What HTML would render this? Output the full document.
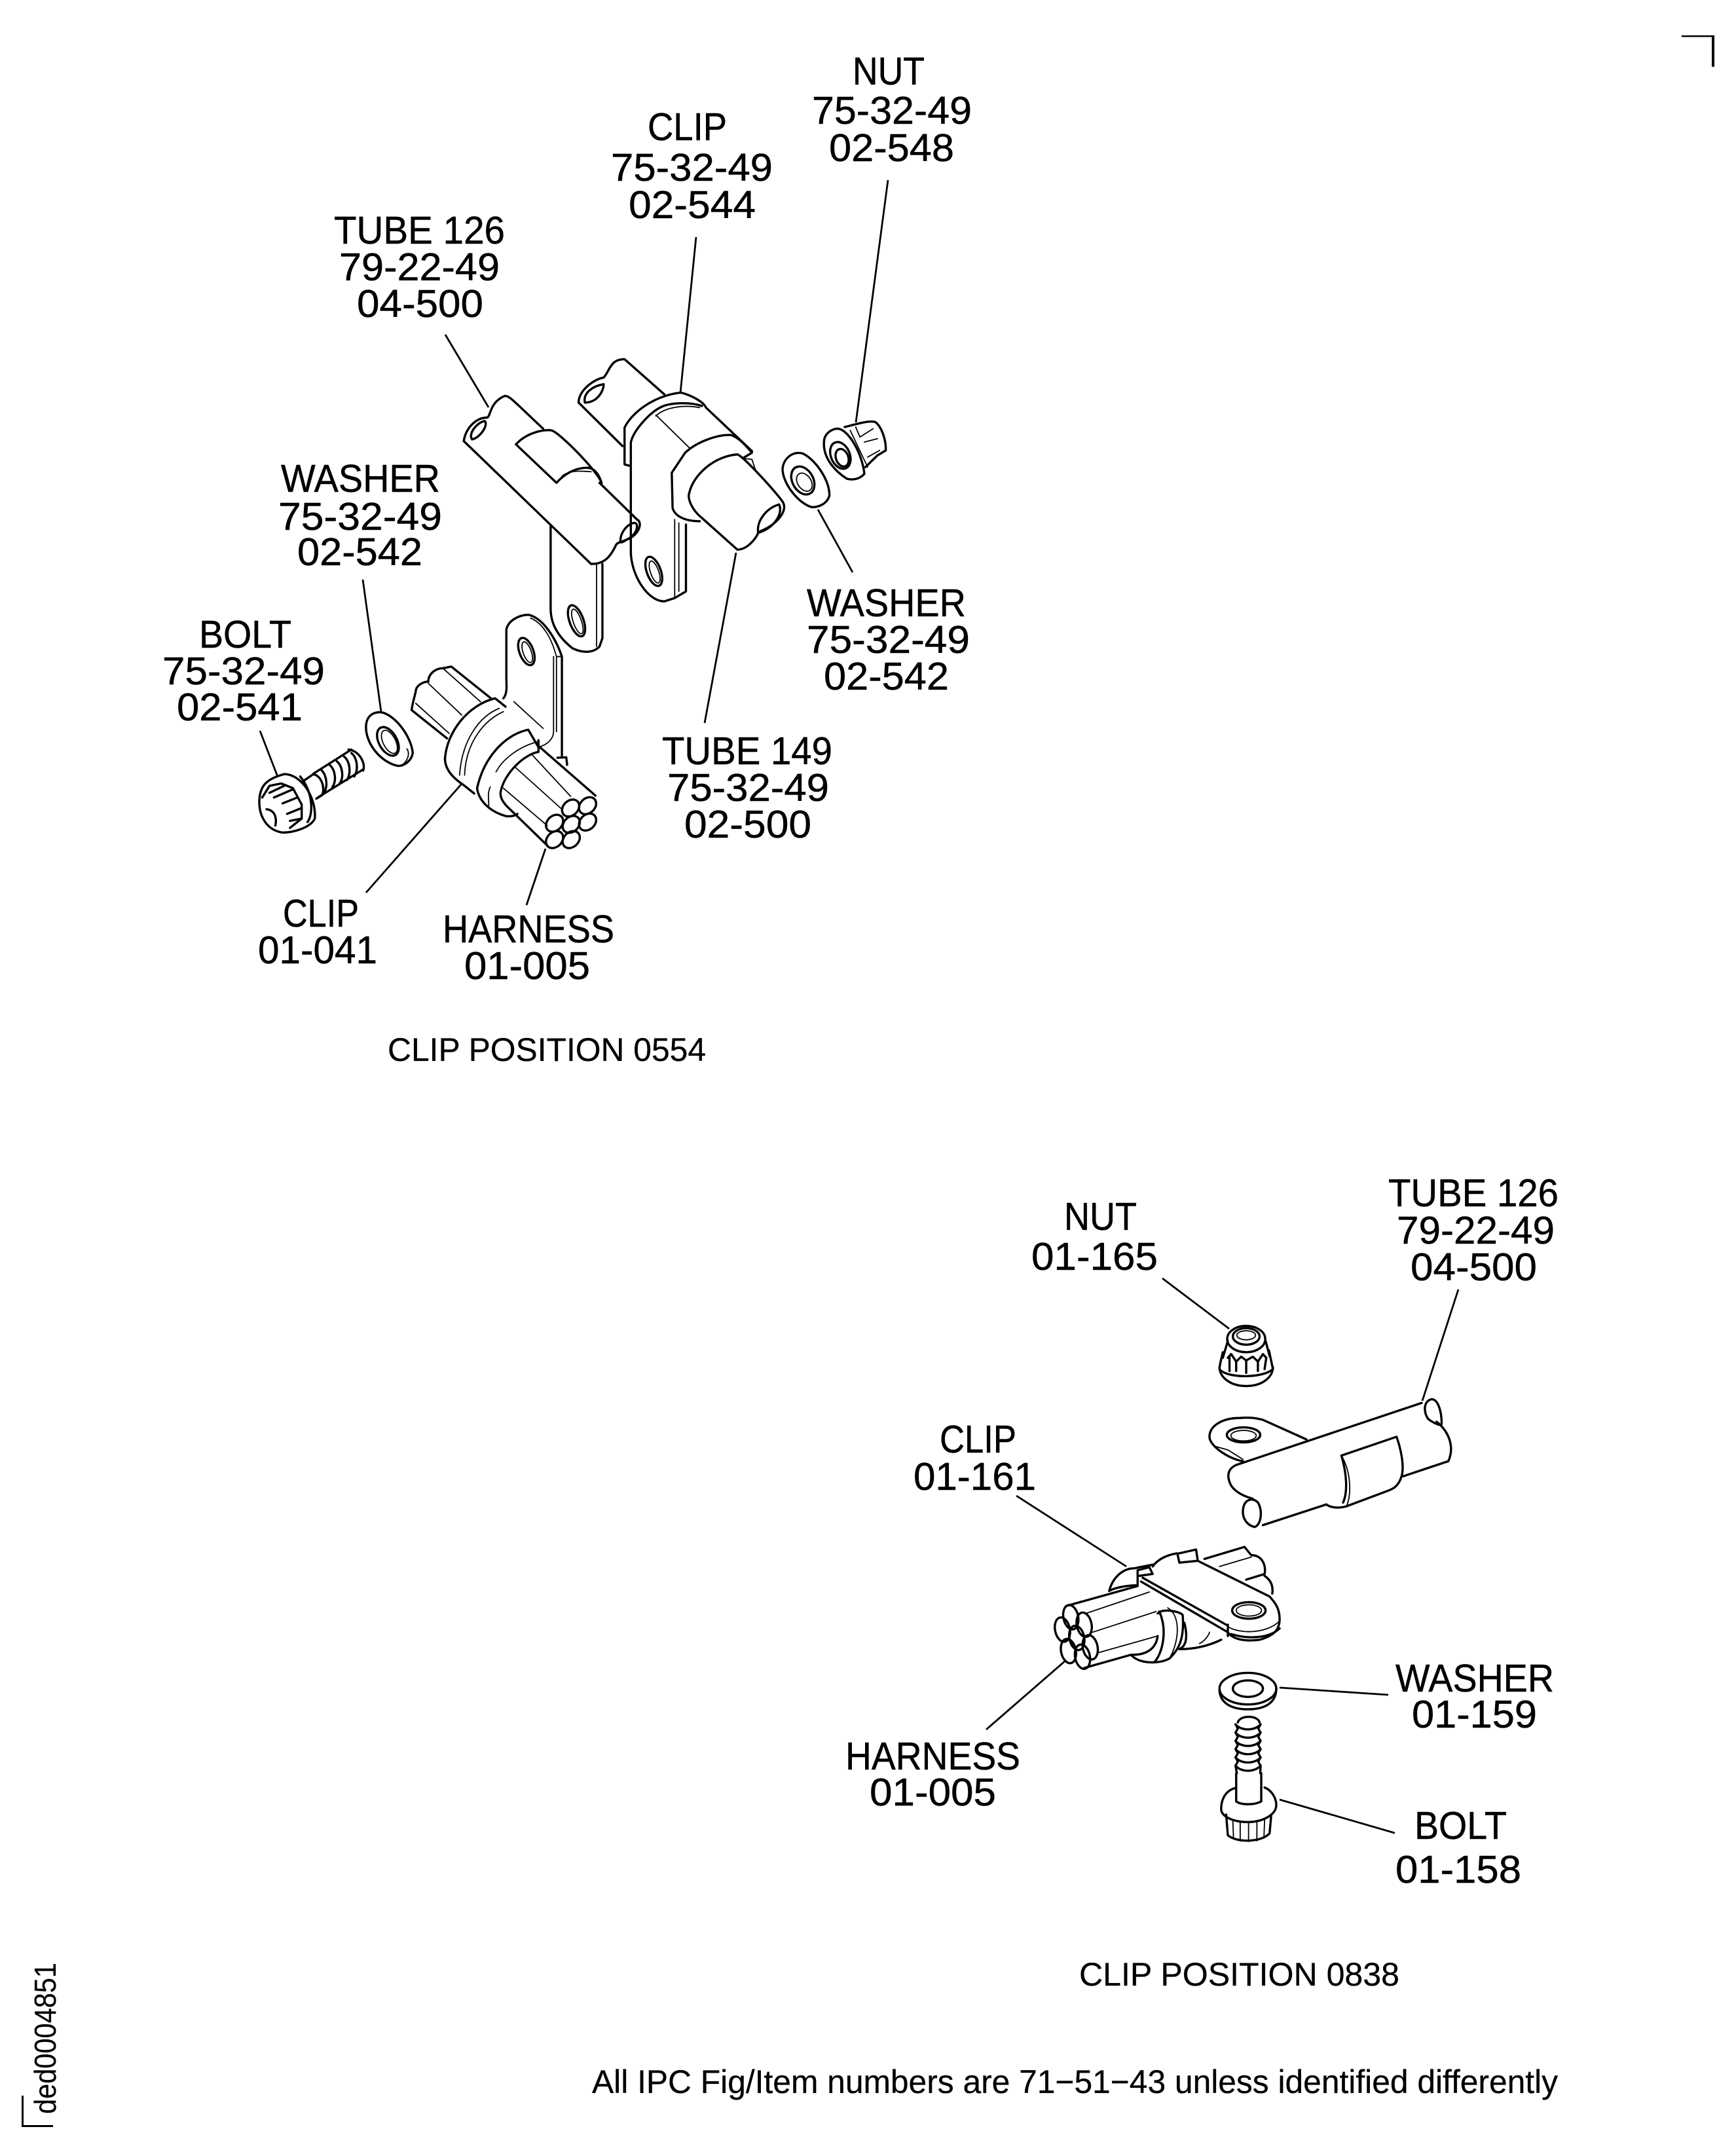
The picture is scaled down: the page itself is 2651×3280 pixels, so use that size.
<!DOCTYPE html>
<html><head><meta charset="utf-8"><style>
html,body{margin:0;padding:0;background:#fff}
svg{display:block}
path,line,ellipse{vector-effect:non-scaling-stroke;fill:none;stroke:#000;stroke-width:3.4;stroke-linecap:round;stroke-linejoin:round}
.t{stroke-width:1.8}
.l line{stroke-width:2.8;stroke-linecap:butt}
text{font-family:"Liberation Sans",sans-serif;font-size:59px;fill:#000;stroke:#000;stroke-width:.5}
.s{font-size:50px;stroke-width:.3}
</style></head><body>
<svg xmlns="http://www.w3.org/2000/svg" width="2651" height="3280" viewBox="0 0 2651 3280">
<rect width="2651" height="3280" fill="#fff"/>

<!-- page marks -->
<rect x="2568" y="54" width="50" height="2.5"/><rect x="2614" y="54" width="4" height="48"/>
<rect x="33" y="3200" width="3" height="48"/><rect x="33" y="3245" width="48" height="3"/>
<text transform="translate(85,3228) rotate(-90)" style="font-size:46px;stroke-width:.2" textLength="231" lengthAdjust="spacingAndGlyphs">ded0004851</text>

<!-- labels top figure -->
<g>
<text x="1302" y="129" textLength="110" lengthAdjust="spacingAndGlyphs">NUT</text>
<text x="1240" y="189" textLength="244" lengthAdjust="spacingAndGlyphs">75-32-49</text>
<text x="1266" y="246" textLength="191" lengthAdjust="spacingAndGlyphs">02-548</text>
<text x="989" y="214" textLength="121" lengthAdjust="spacingAndGlyphs">CLIP</text>
<text x="933" y="276" textLength="247" lengthAdjust="spacingAndGlyphs">75-32-49</text>
<text x="960" y="333" textLength="194" lengthAdjust="spacingAndGlyphs">02-544</text>
<text x="510" y="372" textLength="261" lengthAdjust="spacingAndGlyphs">TUBE 126</text>
<text x="518" y="428" textLength="245" lengthAdjust="spacingAndGlyphs">79-22-49</text>
<text x="545" y="484" textLength="193" lengthAdjust="spacingAndGlyphs">04-500</text>
<text x="429" y="751" textLength="243" lengthAdjust="spacingAndGlyphs">WASHER</text>
<text x="425" y="809" textLength="250" lengthAdjust="spacingAndGlyphs">75-32-49</text>
<text x="454" y="863" textLength="191" lengthAdjust="spacingAndGlyphs">02-542</text>
<text x="304" y="989" textLength="141" lengthAdjust="spacingAndGlyphs">BOLT</text>
<text x="248" y="1045" textLength="248" lengthAdjust="spacingAndGlyphs">75-32-49</text>
<text x="270" y="1100" textLength="192" lengthAdjust="spacingAndGlyphs">02-541</text>
<text x="1232" y="941" textLength="243" lengthAdjust="spacingAndGlyphs">WASHER</text>
<text x="1232" y="997" textLength="249" lengthAdjust="spacingAndGlyphs">75-32-49</text>
<text x="1258" y="1053" textLength="191" lengthAdjust="spacingAndGlyphs">02-542</text>
<text x="1011" y="1167" textLength="260" lengthAdjust="spacingAndGlyphs">TUBE 149</text>
<text x="1019" y="1223" textLength="247" lengthAdjust="spacingAndGlyphs">75-32-49</text>
<text x="1045" y="1279" textLength="194" lengthAdjust="spacingAndGlyphs">02-500</text>
<text x="432" y="1415" textLength="116" lengthAdjust="spacingAndGlyphs">CLIP</text>
<text x="394" y="1471" textLength="182" lengthAdjust="spacingAndGlyphs">01-041</text>
<text x="676" y="1439" textLength="262" lengthAdjust="spacingAndGlyphs">HARNESS</text>
<text x="709" y="1495" textLength="192" lengthAdjust="spacingAndGlyphs">01-005</text>
<text class="s" x="592" y="1620" textLength="486" lengthAdjust="spacingAndGlyphs">CLIP POSITION 0554</text>

<!-- labels bottom figure -->
<text x="2120" y="1842" textLength="260" lengthAdjust="spacingAndGlyphs">TUBE 126</text>
<text x="2133" y="1899" textLength="241" lengthAdjust="spacingAndGlyphs">79-22-49</text>
<text x="2154" y="1955" textLength="193" lengthAdjust="spacingAndGlyphs">04-500</text>
<text x="1625" y="1878" textLength="111" lengthAdjust="spacingAndGlyphs">NUT</text>
<text x="1575" y="1939" textLength="193" lengthAdjust="spacingAndGlyphs">01-165</text>
<text x="1435" y="2218" textLength="117" lengthAdjust="spacingAndGlyphs">CLIP</text>
<text x="1395" y="2275" textLength="187" lengthAdjust="spacingAndGlyphs">01-161</text>
<text x="1291" y="2702" textLength="267" lengthAdjust="spacingAndGlyphs">HARNESS</text>
<text x="1328" y="2757" textLength="193" lengthAdjust="spacingAndGlyphs">01-005</text>
<text x="2131" y="2583" textLength="242" lengthAdjust="spacingAndGlyphs">WASHER</text>
<text x="2156" y="2638" textLength="191" lengthAdjust="spacingAndGlyphs">01-159</text>
<text x="2160" y="2808" textLength="141" lengthAdjust="spacingAndGlyphs">BOLT</text>
<text x="2131" y="2875" textLength="192" lengthAdjust="spacingAndGlyphs">01-158</text>
<text class="s" x="1648" y="3032" textLength="489" lengthAdjust="spacingAndGlyphs">CLIP POSITION 0838</text>
<text class="s" x="904" y="3196" textLength="1475" lengthAdjust="spacingAndGlyphs">All IPC Fig/Item numbers are 71−51−43 unless identified differently</text>
</g>

<!-- leader lines -->
<g class="l">
<line x1="1356" y1="275" x2="1307" y2="645"/>
<line x1="1063" y1="362" x2="1039" y2="600"/>
<line x1="680" y1="511" x2="746" y2="622"/>
<line x1="554" y1="885" x2="582" y2="1087"/>
<line x1="397" y1="1116" x2="424" y2="1186"/>
<line x1="1249" y1="778" x2="1302" y2="874"/>
<line x1="1124" y1="844" x2="1076" y2="1104"/>
<line x1="559" y1="1363" x2="704" y2="1198"/>
<line x1="804" y1="1382" x2="833" y2="1296"/>
<line x1="1775" y1="1952" x2="1877" y2="2029"/>
<line x1="2227" y1="1969" x2="2172" y2="2139"/>
<line x1="1552" y1="2284" x2="1720" y2="2392"/>
<line x1="1506" y1="2641" x2="1628" y2="2535"/>
<line x1="1954" y1="2577" x2="2120" y2="2588"/>
<line x1="1954" y1="2748" x2="2130" y2="2799"/>
</g>

<!-- top figure: tubes, clips (zoom 1 space) -->
<g transform="translate(300,500) scale(.6378,.5102)">
<!-- left tube 126 -->
<path d="M640,340 C645,300 670,270 695,270 C705,270 700,225 738,205 C750,205 755,215 830,303"/>
<path d="M640,340 L945,708 C975,708 990,690 1005,650 C1010,640 1030,640 1045,625 C1065,605 1065,580 1055,575 L965,465"/>
<path d="M765,350 C790,315 830,305 850,308 C870,315 960,430 970,465"/>
<path d="M765,350 L862,465 C880,440 905,420 935,420 C955,420 965,445 970,465"/>
<path class="t" d="M875,445 C890,430 910,428 945,432"/>
<path d="M1015,640 C1015,610 1035,585 1050,585 C1060,590 1055,620 1030,635 C1020,645 1012,645 1015,640"/>
<path d="M660,335 C650,320 670,285 690,280 C700,290 680,330 660,335"/>
<!-- lug under tube 126 -->
<path d="M848,595 L848,840 C848,880 860,920 900,960 C925,975 950,975 965,955 L972,930 L972,708"/>
<path class="t" d="M958,708 L958,955"/>
<ellipse cx="910" cy="878" rx="17" ry="48" transform="rotate(-15 910 878)"/>
<ellipse class="t" cx="912" cy="880" rx="10" ry="38" transform="rotate(-15 912 880)"/>
<!-- upper tube 149 rear -->
<path d="M915,225 C915,190 950,155 975,150 C990,130 990,95 1025,95 L1120,200"/>
<path d="M915,225 L1020,355"/>
<path d="M930,225 C925,195 950,175 975,170 C975,190 960,225 930,225"/>
<!-- clip band -->
<path d="M1025,300 L1025,410 L1040,415 M1025,300 C1040,260 1090,205 1160,195 C1190,205 1215,225 1220,240 L1330,370"/>
<path d="M1040,415 L1040,345 C1045,310 1085,255 1110,240 C1130,225 1180,222 1210,235"/>
<path class="t" d="M1100,262 L1180,360 M1100,265 C1120,240 1165,230 1205,240"/>
<!-- front strap -->
<path d="M1170,375 L1138,435 L1140,540 C1145,565 1170,580 1205,580"/>
<path d="M1170,375 C1200,340 1250,320 1280,322 C1300,330 1320,360 1330,375 L1310,390"/>
<path d="M1180,495 C1190,440 1240,385 1295,380 C1310,385 1400,510 1405,525 C1415,550 1390,590 1350,610 L1345,615 C1340,630 1320,665 1295,665 L1210,570 C1185,545 1175,510 1180,495"/>
<path d="M1345,615 C1340,580 1365,540 1395,530 C1405,555 1385,600 1345,615"/>
<path class="t" d="M1310,392 L1330,395 L1338,425"/>
<!-- upper lug -->
<path d="M1040,415 L1040,670 C1040,740 1080,820 1120,820 L1145,810 L1172,790 L1172,590"/>
<path class="t" d="M1145,575 L1145,810 M1155,585 L1155,790"/>
<ellipse cx="1095" cy="730" rx="17" ry="45" transform="rotate(-15 1095 730)"/>
<ellipse class="t" cx="1097" cy="732" rx="10" ry="34" transform="rotate(-15 1097 732)"/>
<!-- lower lug -->
<path d="M735,1110 C745,1095 742,1070 742,1050 L742,905 C745,880 770,860 795,860 C830,870 860,930 875,985 L875,1285"/>
<path class="t" d="M855,985 L855,1210 C855,1230 840,1250 820,1255 M800,870 C830,885 850,930 862,985 L875,985 M862,985 L862,1210"/>
<ellipse cx="790" cy="970" rx="17" ry="42" transform="rotate(-15 790 970)"/>
<ellipse class="t" cx="792" cy="972" rx="10" ry="32" transform="rotate(-15 792 972)"/>
<path class="t" d="M760,1120 L830,1200"/>
<!-- lower clip band -->
<path d="M595,1290 C600,1210 650,1130 715,1110 L740,1135"/>
<path class="t" d="M725,1140 C675,1165 635,1240 630,1340 M735,1150 C690,1175 645,1240 642,1340"/>
<path d="M595,1290 C595,1320 610,1345 640,1370 L665,1395"/>
<!-- rear wires -->
<path d="M600,1230 L515,1145 L518,1125 L525,1090 C525,1070 545,1060 555,1060 C555,1040 570,1020 590,1020 L610,1015 L705,1110"/>
<path class="t" d="M555,1065 L635,1160 M525,1125 L605,1215 M590,1020 L680,1120"/>
</g>

<!-- lower clip, bolt, washer, bundle (zoom 3 space) -->
<g transform="translate(300,1050) scale(.4464,.357)">
<path d="M1170,255 L1135,180 C1060,200 985,290 960,430 C965,480 1000,530 1060,550 C1080,552 1090,548 1098,540"/>
<path d="M1170,225 L1170,275 C1120,285 1050,370 1040,450 C1040,475 1050,490 1060,505 L1200,675"/>
<path class="t" d="M1165,232 C1110,250 1050,300 1025,360 M1005,425 C995,450 1000,480 1000,505"/>
<path d="M1175,255 L1365,462"/>
<path class="t" d="M1150,290 L1280,465 M1090,340 L1250,520 M1050,430 L1200,590"/>
<path d="M1235,300 L1265,298 L1268,330"/>
<g>
<ellipse cx="1338" cy="505" rx="27" ry="38" transform="rotate(25 1338 505)"/>
<ellipse cx="1280" cy="515" rx="27" ry="38" transform="rotate(25 1280 515)"/>
<ellipse cx="1225" cy="580" rx="27" ry="38" transform="rotate(25 1225 580)"/>
<ellipse cx="1282" cy="585" rx="27" ry="38" transform="rotate(25 1282 585)"/>
<ellipse cx="1338" cy="575" rx="27" ry="38" transform="rotate(25 1338 575)"/>
<ellipse cx="1225" cy="650" rx="27" ry="38" transform="rotate(25 1225 650)"/>
<ellipse cx="1282" cy="650" rx="27" ry="38" transform="rotate(25 1282 650)"/>
</g>
<!-- left washer -->
<path d="M580,170 C580,125 600,105 630,105 C680,115 735,210 740,280 C735,315 710,335 690,335 C630,320 580,240 580,170"/>
<ellipse cx="655" cy="230" rx="32" ry="64" transform="rotate(-20 655 230)"/>
<ellipse class="t" cx="660" cy="232" rx="22" ry="52" transform="rotate(-20 660 232)"/>
<path class="t" d="M720,262 C730,280 725,310 705,330"/>
<!-- bolt -->
<path d="M215,490 C215,420 240,390 300,370 C360,370 410,470 405,560 C390,600 330,620 295,620 C240,610 215,550 215,490"/>
<path d="M355,380 C400,450 400,540 380,575"/>
<path d="M225,470 L250,420 L290,410 L330,430 L360,500 L360,560 L320,600"/>
<path d="M250,450 L300,420 M265,470 L330,435 M295,495 L345,470 M310,540 L360,515 M320,570 L360,560"/>
<path d="M240,520 C270,525 275,560 270,590"/>
<path d="M365,400 L400,370 C430,380 440,430 430,460 L410,475"/>
<path d="M400,368 L530,265 M415,470 L570,350 M520,265 C560,270 580,330 570,355"/>
<path d="M425,350 C445,370 450,420 438,445 M455,330 C475,350 480,400 465,425 M480,315 C500,335 505,385 490,410 M505,295 C525,315 530,365 515,395 M530,280 C550,300 555,350 540,380"/>
</g>

<!-- right washer and nut (zoom 4 space) -->
<g transform="translate(1050,50) scale(.3333,.5102)">
<path d="M435,1305 C440,1270 490,1250 530,1260 C590,1280 650,1340 650,1385 C640,1410 600,1420 570,1420 C510,1410 435,1350 435,1305"/>
<ellipse cx="528" cy="1340" rx="56" ry="38" transform="rotate(25 528 1340)"/>
<ellipse class="t" cx="535" cy="1345" rx="38" ry="24" transform="rotate(25 535 1345)"/>
<path d="M625,1225 C625,1200 660,1185 690,1185 C740,1190 800,1260 810,1320 C790,1335 760,1340 730,1335 C670,1310 620,1270 625,1225"/>
<ellipse cx="700" cy="1265" rx="50" ry="36" transform="rotate(30 700 1265)"/>
<ellipse cx="708" cy="1272" rx="32" ry="24" transform="rotate(30 708 1272)"/>
<path d="M720,1180 C780,1170 830,1160 860,1165 C890,1180 910,1220 908,1250 L870,1265 L815,1300"/>
<path class="t" d="M770,1180 L790,1210 L850,1185 M810,1225 L870,1215 M825,1270 L880,1250 M745,1190 L825,1300"/>
</g>

<!-- bottom figure (zoom 2 space) -->
<g transform="translate(1500,1950) scale(.5102,.574)">
<!-- nut -->
<ellipse cx="790" cy="165" rx="57" ry="35"/>
<ellipse cx="790" cy="158" rx="40" ry="22"/>
<ellipse class="t" cx="790" cy="155" rx="28" ry="12"/>
<path d="M710,240 C710,265 740,290 790,290 C840,290 870,265 870,240"/>
<path d="M720,200 C715,220 710,235 710,245 C730,270 840,270 870,245 L858,195"/>
<path d="M735,170 L720,215 M848,170 L860,210"/>
<path d="M735,215 L745,205 L760,225 L775,212 L790,222 L810,212 L825,225 L840,205 L850,215"/>
<path d="M740,210 L740,250 M760,225 L760,250 M790,222 L790,255 M825,225 L825,250 M850,215 L845,245"/>
<!-- tube & lug -->
<path d="M780,490 C740,485 680,450 680,425 C680,395 720,375 770,375 C810,372 830,378 840,380 L970,432"/>
<path class="t" d="M695,450 L735,460 L780,485"/>
<ellipse cx="782" cy="420" rx="50" ry="20"/>
<ellipse class="t" cx="782" cy="422" rx="38" ry="14"/>
<path d="M760,500 L1315,335"/>
<path d="M1345,325 C1320,330 1320,360 1335,378 C1345,385 1375,400 1375,390 C1375,360 1365,325 1345,325"/>
<path d="M1360,385 C1395,410 1415,450 1395,490 L1260,530"/>
<path d="M1075,475 L1240,425 C1250,450 1265,500 1255,530 C1245,560 1225,565 1210,570 L1090,610 C1050,620 1030,605 1030,605"/>
<path class="t" d="M1075,475 C1105,520 1105,580 1090,610"/>
<path d="M1075,475 C1090,520 1095,570 1080,600"/>
<path d="M760,500 C735,510 730,530 745,555 C760,575 790,585 810,590"/>
<path d="M840,660 L1030,605"/>
<path d="M780,625 C780,590 810,585 825,600 C840,620 835,660 815,665 C790,660 780,640 780,625"/>
<!-- harness bundle -->
<ellipse cx="265" cy="905" rx="22" ry="33" transform="rotate(-15 265 905)"/>
<ellipse cx="305" cy="925" rx="22" ry="33" transform="rotate(-15 305 925)"/>
<ellipse cx="240" cy="938" rx="22" ry="33" transform="rotate(-15 240 938)"/>
<ellipse cx="283" cy="960" rx="22" ry="33" transform="rotate(-15 283 960)"/>
<ellipse cx="323" cy="985" rx="22" ry="33" transform="rotate(-15 323 985)"/>
<ellipse cx="258" cy="995" rx="22" ry="33" transform="rotate(-15 258 995)"/>
<ellipse cx="300" cy="1010" rx="22" ry="33" transform="rotate(-15 300 1010)"/>
<path d="M252,875 L465,822 M305,1040 L445,1005"/>
<path class="t" d="M310,895 L500,838 M330,945 L520,890 M345,1000 L525,955"/>
<!-- front band -->
<path d="M525,895 C540,880 595,890 600,900 C605,960 590,990 560,1015 C530,1030 470,1030 445,1005"/>
<path d="M525,955 C520,990 490,1005 450,1005"/>
<path d="M530,890 C555,940 540,1000 515,1025"/>
<path class="t" d="M555,880 C595,900 590,970 560,1015"/>
<!-- rear clip -->
<path d="M380,835 C390,800 420,775 455,775 L510,765"/>
<path d="M380,835 C400,825 440,820 465,820 L465,780 L500,772 L510,790 L470,795"/>
<path d="M510,770 C530,745 570,735 590,735 L640,725 L645,755 L590,760 L585,740"/>
<!-- tab -->
<path d="M475,810 L735,945 C750,965 790,970 830,965 C870,955 890,940 890,910 C890,880 875,865 860,850 L645,755"/>
<path d="M480,800 L730,925"/>
<path d="M735,925 L735,955"/>
<path class="t" d="M735,930 C770,950 850,950 890,915"/>
<path d="M745,950 C800,965 860,960 890,935"/>
<ellipse cx="798" cy="887" rx="50" ry="22"/>
<ellipse class="t" cx="798" cy="887" rx="38" ry="15"/>
<!-- rear wires -->
<path d="M665,750 L785,718 L805,740 C840,740 850,770 845,790 L790,805 M845,795 C870,810 870,830 868,842"/>
<path class="t" d="M710,770 L805,745"/>
<path d="M590,990 C640,990 680,980 715,965 M605,920 C620,975 600,985 590,990"/>
<path class="t" d="M650,975 C665,970 680,950 680,945"/>
<!-- washer -->
<ellipse cx="795" cy="1095" rx="85" ry="42"/>
<path d="M710,1100 C712,1130 740,1150 795,1150 C850,1150 880,1130 880,1095"/>
<ellipse cx="795" cy="1095" rx="45" ry="22"/>
<!-- bolt -->
<path d="M765,1185 C770,1165 825,1165 830,1185"/>
<path d="M758,1190 C775,1208 815,1208 833,1190 M758,1212 C775,1230 815,1230 833,1212 M758,1234 C775,1252 815,1252 833,1234 M758,1256 C775,1274 815,1274 833,1256 M758,1278 C775,1296 815,1296 833,1278 M758,1300 C775,1318 815,1318 833,1300"/>
<path d="M758,1190 L765,1201 L758,1212 L765,1223 L758,1234 L765,1245 L758,1256 L765,1267 L758,1278 L765,1289 L758,1300 L762,1320 M833,1190 L826,1201 L833,1212 L826,1223 L833,1234 L826,1245 L833,1256 L826,1267 L833,1278 L826,1289 L833,1300 L832,1320"/>
<path d="M760,1320 L760,1395 C775,1405 815,1405 835,1395 L835,1320"/>
<path d="M755,1360 C720,1370 715,1400 715,1415 C715,1435 750,1450 795,1450 C840,1450 880,1430 880,1405 C880,1385 865,1365 845,1358"/>
<path d="M730,1430 L735,1485 C760,1505 835,1505 860,1480 L865,1430"/>
<path class="t" d="M750,1445 L752,1495 M772,1450 L772,1500 M797,1452 L797,1502 M822,1450 L822,1500 M845,1445 L843,1492"/>
</g>
</svg>
</body></html>
